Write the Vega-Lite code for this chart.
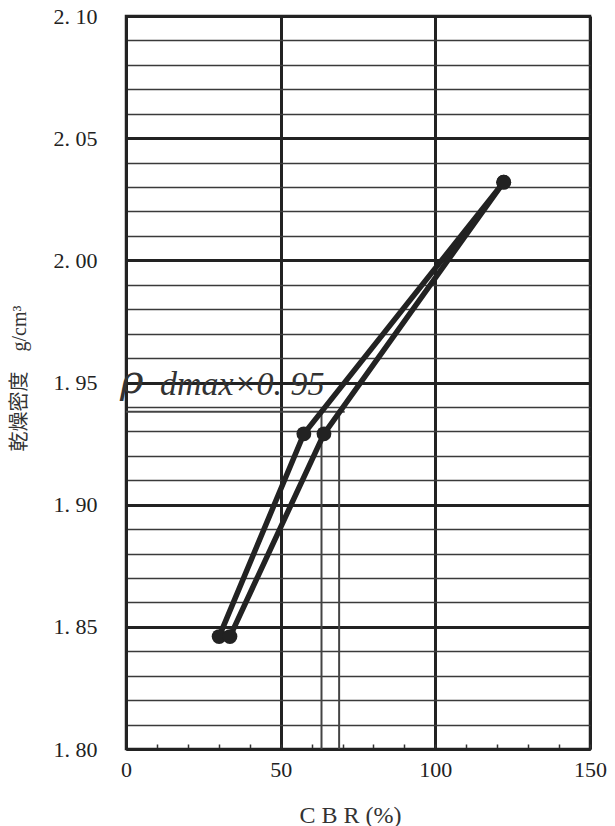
{
  "$schema": "https://vega.github.io/schema/vega-lite/v6.json",
  "width": 464,
  "height": 733,
  "autosize": {"type": "none"},
  "padding": {"left": 126, "top": 16, "right": 25, "bottom": 77},
  "background": "white",
  "config": {
    "view": {"stroke": "#222", "strokeWidth": 2.5},
    "font": "'Liberation Serif', 'Noto Sans CJK JP'"
  },
  "datasets": {
    "curves": [
      {"series": "A", "cbr": 30.1, "rho": 1.846},
      {"series": "A", "cbr": 57.5, "rho": 1.929},
      {"series": "A", "cbr": 122.1, "rho": 2.032},
      {"series": "B", "cbr": 33.6, "rho": 1.846},
      {"series": "B", "cbr": 64.0, "rho": 1.929},
      {"series": "B", "cbr": 122.1, "rho": 2.032}
    ],
    "refs": [
      {"cbr": 0, "cbr2": 70.7, "rho": 1.938, "rho2": 1.938},
      {"cbr": 63.2, "cbr2": 63.2, "rho": 1.8, "rho2": 1.938},
      {"cbr": 68.9, "cbr2": 68.9, "rho": 1.8, "rho2": 1.938}
    ],
    "noteRho": [
      {"cbr": 0, "rho": 1.9449, "text": "ρ"}
    ],
    "noteRest": [
      {"cbr": 11, "rho": 1.9449, "text": "dmax×0. 95"}
    ]
  },
  "layer": [
    {
      "data": {"name": "refs"},
      "mark": {"type": "rule", "color": "#444", "strokeWidth": 2},
      "encoding": {
        "x": {
          "field": "cbr", "type": "quantitative",
          "scale": {"domain": [0, 150], "nice": false, "zero": false},
          "axis": {
            "values": [0, 10, 20, 30, 40, 50, 60, 70, 80, 90, 100, 110, 120, 130, 140, 150],
            "tickCount": 200,
            "title": "C B R  (%)",
            "titleFont": "'Liberation Serif'",
            "titleFontSize": 24,
            "titleFontWeight": "normal",
            "titleColor": "#333",
            "titleX": 224,
            "titleY": 66,
            "titleBaseline": "middle",
            "titleAlign": "center",
            "labelExpr": "datum.value % 50 == 0 ? datum.label : ''",
            "labelFont": "'Liberation Serif'",
            "labelFontSize": 22,
            "labelColor": "#222",
            "labelPadding": 15.5,
            "labelOverlap": false,
            "labelFlush": false,
            "labelBound": false,
            "tickSize": -5,
            "tickWidth": 1.5,
            "tickColor": "#333",
            "domainColor": "#222",
            "domainWidth": 3,
            "grid": true,
            "gridColor": "#222",
            "gridWidth": 3,
            "gridOpacity": {"condition": {"test": "datum.value % 50 == 0", "value": 1}, "value": 0}
          }
        },
        "x2": {"field": "cbr2"},
        "y": {
          "field": "rho", "type": "quantitative",
          "scale": {"domain": [1.8, 2.1], "nice": false, "zero": false},
          "axis": {
            "values": [1.80, 1.81, 1.82, 1.83, 1.84, 1.85, 1.86, 1.87, 1.88, 1.89, 1.90, 1.91, 1.92, 1.93, 1.94, 1.95, 1.96, 1.97, 1.98, 1.99, 2.00, 2.01, 2.02, 2.03, 2.04, 2.05, 2.06, 2.07, 2.08, 2.09, 2.10],
            "tickCount": 200,
            "title": "乾燥密度　g/cm³",
            "titleFont": "'Liberation Serif', 'Noto Sans CJK JP'",
            "titleFontSize": 20,
            "titleFontWeight": "normal",
            "titleColor": "#333",
            "titleX": -107,
            "titleY": 362,
            "titleAngle": -90,
            "titleBaseline": "middle",
            "titleAlign": "center",
            "labelExpr": "round(datum.value * 100) % 5 == 0 ? replace(format(datum.value, '.2f'), '.', '. ') : ''",
            "labelFont": "'Liberation Serif'",
            "labelFontSize": 22,
            "labelColor": "#222",
            "labelPadding": 29,
            "labelOverlap": false,
            "labelFlush": false,
            "labelBound": false,
            "ticks": false,
            "domainColor": "#222",
            "domainWidth": 3,
            "grid": true,
            "gridColor": {"condition": {"test": "round(datum.value * 100) % 5 == 0", "value": "#222"}, "value": "#3a3a3a"},
            "gridWidth": {"condition": {"test": "round(datum.value * 100) % 5 == 0", "value": 3}, "value": 1.6}
          }
        },
        "y2": {"field": "rho2"}
      }
    },
    {
      "data": {"name": "curves"},
      "mark": {"type": "line", "color": "#222", "strokeWidth": 5.5},
      "encoding": {
        "x": {"field": "cbr", "type": "quantitative"},
        "y": {"field": "rho", "type": "quantitative"},
        "detail": {"field": "series"}
      }
    },
    {
      "data": {"name": "curves"},
      "mark": {"type": "point", "filled": true, "color": "#222", "size": 220, "opacity": 1},
      "encoding": {
        "x": {"field": "cbr", "type": "quantitative"},
        "y": {"field": "rho", "type": "quantitative"}
      }
    },
    {
      "data": {"name": "noteRho"},
      "mark": {"type": "text", "align": "left", "baseline": "alphabetic", "dx": -6, "dy": -2, "font": "'DejaVu Serif'", "fontStyle": "italic", "fontSize": 40, "color": "#333"},
      "encoding": {
        "x": {"field": "cbr", "type": "quantitative"},
        "y": {"field": "rho", "type": "quantitative"},
        "text": {"field": "text"}
      }
    },
    {
      "data": {"name": "noteRest"},
      "mark": {"type": "text", "align": "left", "baseline": "alphabetic", "font": "'Liberation Serif'", "fontStyle": "italic", "fontSize": 34, "color": "#333"},
      "encoding": {
        "x": {"field": "cbr", "type": "quantitative"},
        "y": {"field": "rho", "type": "quantitative"},
        "text": {"field": "text"}
      }
    }
  ]
}
